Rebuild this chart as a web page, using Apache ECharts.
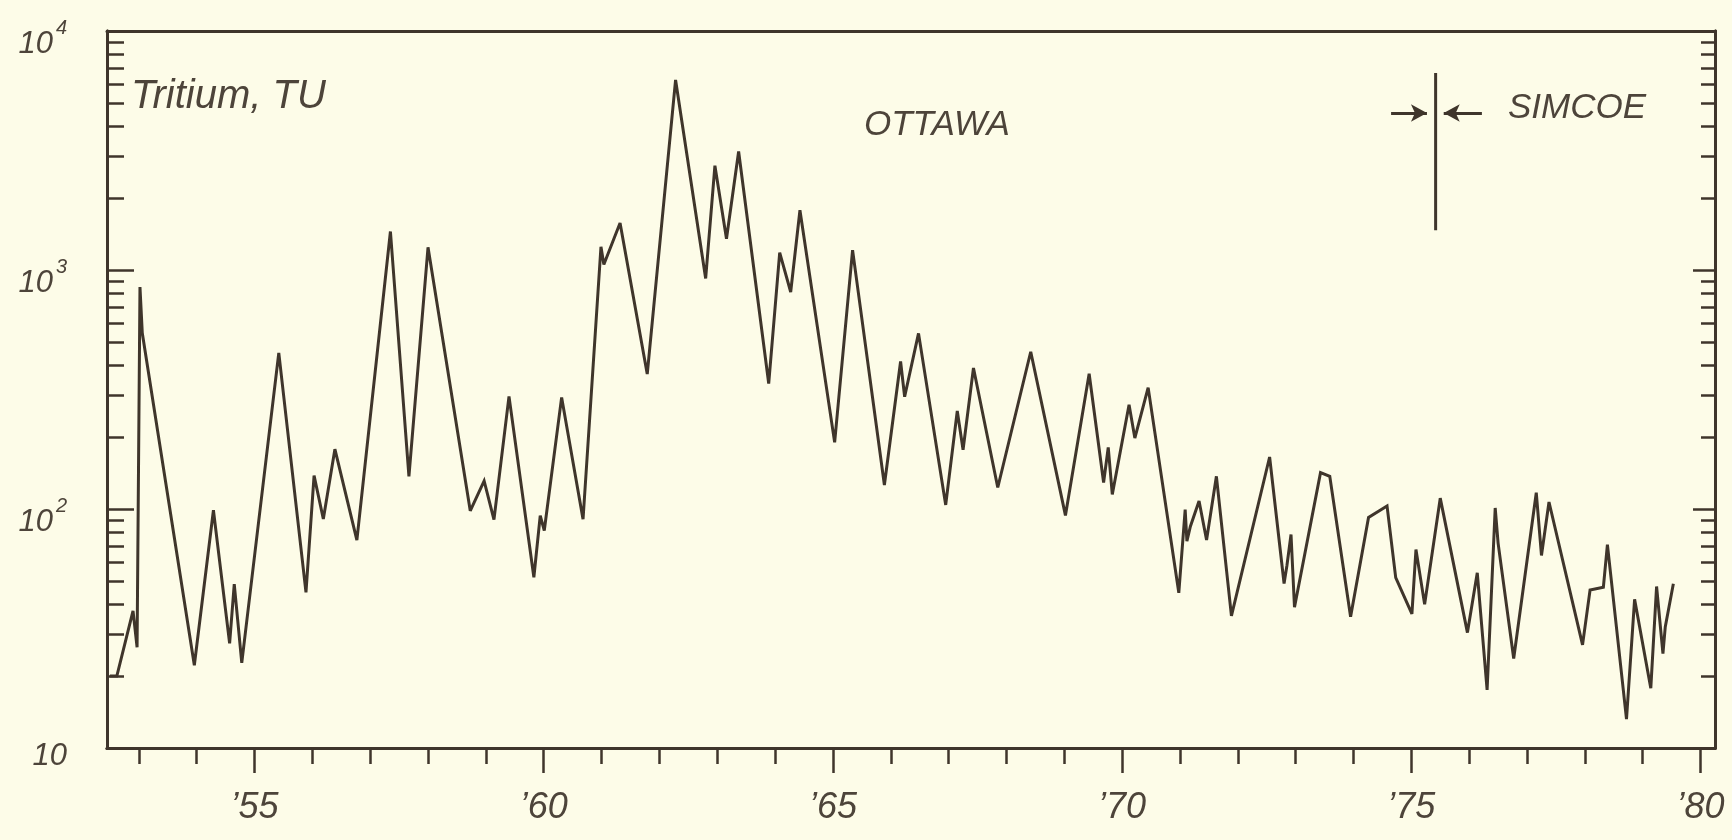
<!DOCTYPE html>
<html>
<head>
<meta charset="utf-8">
<script src="https://cdn.jsdelivr.net/npm/echarts@6/dist/echarts.min.js"></script>
<style>
html,body{margin:0;padding:0;background:#fdfce8;}
#chart{width:1732px;height:840px;}
</style>
</head>
<body>
<div id="chart"></div>
<script>
// ---- data ----
const years = [
  1952.50, 1952.62, 1952.90, 1952.97, 1953.02, 1953.06, 1953.96, 1954.29, 1954.57, 1954.65,
  1954.78, 1955.42, 1955.89, 1956.03, 1956.19, 1956.39, 1956.77, 1957.35, 1957.67, 1958.00,
  1958.73, 1958.97, 1959.14, 1959.40, 1959.83, 1959.94, 1960.01, 1960.31, 1960.68, 1960.99,
  1961.04, 1961.32, 1961.79, 1962.28, 1962.80, 1962.96, 1963.16, 1963.37, 1963.89, 1964.08,
  1964.27, 1964.43, 1965.03, 1965.34, 1965.89, 1966.17, 1966.24, 1966.48, 1966.95, 1967.15,
  1967.25, 1967.43, 1967.85, 1968.42, 1969.02, 1969.43, 1969.68, 1969.76, 1969.83, 1970.12,
  1970.22, 1970.45, 1970.98, 1971.09, 1971.12, 1971.18, 1971.33, 1971.46, 1971.63, 1971.89,
  1972.55, 1972.80, 1972.85, 1972.92, 1972.98, 1973.43, 1973.59, 1973.95, 1974.26, 1974.58,
  1974.73, 1975.01, 1975.08, 1975.23, 1975.50, 1975.97, 1976.14, 1976.31, 1976.45, 1976.50,
  1976.77, 1977.16, 1977.25, 1977.38, 1977.96, 1978.09, 1978.32, 1978.39, 1978.72, 1978.86,
  1979.14, 1979.24, 1979.35, 1979.39, 1979.53
];
const tritiumTU = [
  20, 20, 37.5, 26.4, 849, 545, 22.2, 98.8, 27.4, 48.5,
  22.7, 450, 44.8, 138, 90.8, 178, 74.1, 1449, 137, 1244,
  98.3, 131, 90.3, 296, 51.8, 93.9, 81.3, 293, 90.6, 1251,
  1055, 1572, 367, 6240, 922, 2731, 1352, 3133, 335, 1182,
  809, 1778, 190, 1211, 126, 414, 295, 543, 104, 257,
  177, 389, 123, 455, 94, 368, 129, 181, 115, 273,
  198, 322, 44.6, 99.5, 73.3, 84.5, 108, 74.2, 137, 35.7,
  165, 48.8, 58.2, 78.2, 38.8, 142, 137, 35.4, 92.2, 103,
  51.6, 36.4, 67.7, 39.9, 111, 30.4, 54.1, 17.5, 101, 72,
  23.7, 117, 63.9, 107, 27.0, 45.8, 47.1, 71, 13.2, 41.9,
  17.8, 47.4, 24.8, 32.1, 48.7
];
const yearMinorTicks = [1953,1954,1955,1956,1957,1958,1959,1960,1961,1962,1963,1964,1965,1966,1967,1968,1969,1970,1971,1972,1973,1974,1975,1976,1977,1978,1979,1980];
const yearMajorTicks = [1955,1960,1965,1970,1975,1980];
const decadeTicks = [10,100,1000,10000];
const minorValueTicks = [20,30,40,50,60,70,80,90,200,300,400,500,600,700,800,900,2000,3000,4000,5000,6000,7000,8000,9000];
const xRange = [1952.45, 1980.25];
const yRange = [10, 10000];
// station change marker (Ottawa -> Simcoe)
const dividerYear = 1975.42;
const dividerValues = [6670, 1468];
const arrowValue = 4540;
const arrowRight = [1974.65, 1975.27];
const arrowLeft = [1976.22, 1975.56];

const ink = '#3f352b';
const textInk = '#4d443a';
const fontFam = '"Liberation Sans", Arial, sans-serif';

function yAx(position, ticks, len, showLabel) {
  return {
    type: 'log', logBase: 10, min: yRange[0], max: yRange[1], position: position,
    axisLine: { show: true, lineStyle: { color: ink, width: 3 } },
    axisTick: { show: true, inside: true, length: len, customValues: ticks, lineStyle: { color: ink, width: 2.5 } },
    splitLine: { show: false }, minorTick: { show: false },
    axisLabel: showLabel ? {
      show: true, customValues: decadeTicks, margin: 40, padding: [16, 0, 0, 0],
      formatter: function (v) {
        const e = Math.round(Math.log10(v));
        return e === 1 ? '{b|10}' : '{b|10}{s|' + e + '}';
      },
      rich: {
        b: { fontSize: 31, fontStyle: 'italic', fontFamily: fontFam, color: textInk, verticalAlign: 'bottom' },
        s: { fontSize: 20, fontStyle: 'italic', fontFamily: fontFam, color: textInk, verticalAlign: 'top', padding: [0, 0, 22, 3] }
      }
    } : { show: false }
  };
}

function xAx(position, ticks, len, showLabel, showLine) {
  return {
    type: 'value', min: xRange[0], max: xRange[1], position: position,
    axisLine: { show: showLine, onZero: false, lineStyle: { color: ink, width: 3 } },
    axisTick: { show: ticks.length > 0, inside: false, length: len, customValues: ticks, lineStyle: { color: ink, width: 2.5 } },
    splitLine: { show: false },
    axisLabel: showLabel ? {
      show: true, customValues: yearMajorTicks, margin: 42,
      fontSize: 36, fontStyle: 'italic', fontFamily: fontFam, color: textInk,
      formatter: function (v) { return '\u2019' + String(Math.round(v)).slice(2); }
    } : { show: false }
  };
}

const chart = echarts.init(document.getElementById('chart'), null, { renderer: 'canvas' });
chart.setOption({
  backgroundColor: '#fdfce8',
  animation: false,
  grid: { left: 107, right: 17, top: 31, bottom: 92, show: false, containLabel: false, outerBoundsMode: 'none' },
  xAxis: [
    xAx('bottom', yearMinorTicks, 16, false, true),
    xAx('bottom', yearMajorTicks, 25, true, true),
    xAx('top', [], 0, false, true)
  ],
  yAxis: [
    yAx('left', minorValueTicks, 17, false),
    yAx('left', decadeTicks, 27, true),
    yAx('right', minorValueTicks, 14, false),
    yAx('right', decadeTicks, 22, false)
  ],
  series: [
    {
      name: 'Tritium, TU', type: 'line', xAxisIndex: 0, yAxisIndex: 0,
      data: years.map((y, i) => [y, tritiumTU[i]]),
      showSymbol: false, symbol: 'none', silent: true,
      lineStyle: { color: ink, width: 3, join: 'miter', miterLimit: 3 }
    },
    {
      name: 'divider', type: 'line', xAxisIndex: 0, yAxisIndex: 0,
      data: [[dividerYear, dividerValues[0]], [dividerYear, dividerValues[1]]],
      showSymbol: false, symbol: 'none', silent: true,
      lineStyle: { color: ink, width: 3 },
      markLine: {
        silent: true, symbol: ['none', 'arrow'], symbolSize: [13, 16],
        label: { show: false },
        lineStyle: { color: ink, width: 3, type: 'solid' },
        data: [
          [{ coord: [arrowRight[0], arrowValue] }, { coord: [arrowRight[1], arrowValue] }],
          [{ coord: [arrowLeft[0], arrowValue] }, { coord: [arrowLeft[1], arrowValue] }]
        ]
      }
    }
  ],
  graphic: [
    { type: 'text', left: 131, top: 77, style: { text: 'Tritium, TU', font: 'italic 40px ' + fontFam, fill: textInk } },
    { type: 'text', left: 864, top: 108, style: { text: 'OTTAWA', font: 'italic 35px ' + fontFam, fill: textInk } },
    { type: 'text', left: 1508, top: 91, style: { text: 'SIMCOE', font: 'italic 35px ' + fontFam, fill: textInk } }
  ]
});
</script>
</body>
</html>
